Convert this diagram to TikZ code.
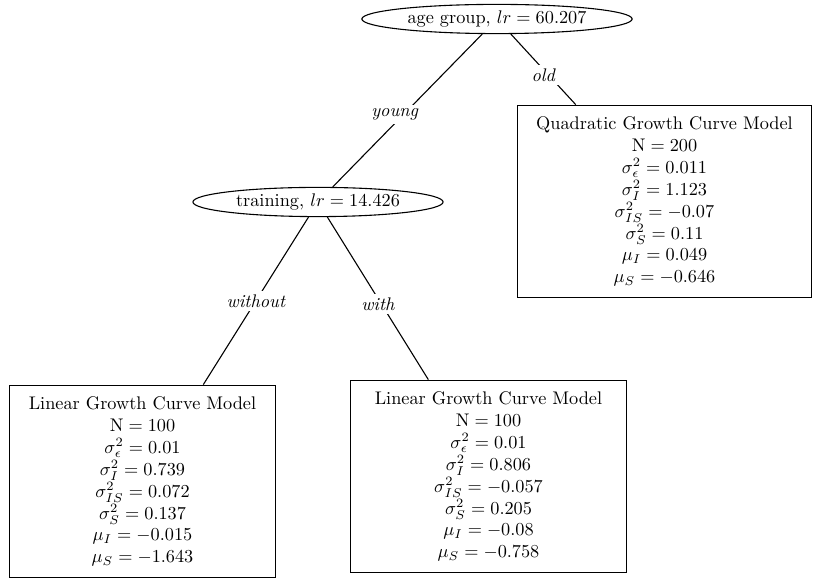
\documentclass[tikz,border=0pt]{standalone}
\usepackage{amsmath,amssymb}
\usepackage{tikz}
\usetikzlibrary{shapes.geometric}

\begin{document}
\begin{tikzpicture}[
    x=0.5475pt,y=-0.5475pt,
    font=\normalsize,
    split/.style={draw,ellipse,line width=0.6pt,inner sep=0pt,minimum height=16pt},
    leaf/.style={draw,rectangle,line width=0.6pt,align=center,inner xsep=10.5pt,minimum height=105.5pt},
    branch/.style={draw,line width=0.6pt},
    cond/.style={fill=white,font=\itshape,inner sep=2pt}
]
\useasboundingbox (0,0) rectangle (817,582);

% Split nodes with the likelihood ratio of the chosen variable.
\node[split,minimum width=148pt] (age) at (497,19) {age group, $lr = 60.207$};
\node[split,minimum width=137pt] (training) at (318,202) {training, $lr = 14.426$};

% Terminal nodes with the fitted growth curve parameters.
\node[leaf] (quadratic) at (664.5,201.5) {Quadratic Growth Curve Model\\
    $\mathrm{N} = 200$\\
    $\sigma^2_\epsilon = 0.011$\\
    $\sigma^2_I = 1.123$\\
    $\sigma^2_{IS} = -0.07$\\
    $\sigma^2_S = 0.11$\\
    $\mu_I = 0.049$\\
    $\mu_S = -0.646$};
\node[leaf] (without) at (142.5,481.5) {Linear Growth Curve Model\\
    $\mathrm{N} = 100$\\
    $\sigma^2_\epsilon = 0.01$\\
    $\sigma^2_I = 0.739$\\
    $\sigma^2_{IS} = 0.072$\\
    $\sigma^2_S = 0.137$\\
    $\mu_I = -0.015$\\
    $\mu_S = -1.643$};
\node[leaf,minimum width=151.5pt] (with) at (488.5,476.5) {Linear Growth Curve Model\\
    $\mathrm{N} = 100$\\
    $\sigma^2_\epsilon = 0.01$\\
    $\sigma^2_I = 0.806$\\
    $\sigma^2_{IS} = -0.057$\\
    $\sigma^2_S = 0.205$\\
    $\mu_I = -0.08$\\
    $\mu_S = -0.758$};

% Branches; the labels break the lines.
\draw[branch] (age) -- node[cond,xshift=-7pt,yshift=-2pt] {young} (training);
\draw[branch] (age) -- node[cond,yshift=-3pt] {old} (quadratic);
\draw[branch] (training) -- node[cond] {without} (without);
\draw[branch] (training) -- node[cond,yshift=-3pt] {with} (with);
\end{tikzpicture}
\end{document}
